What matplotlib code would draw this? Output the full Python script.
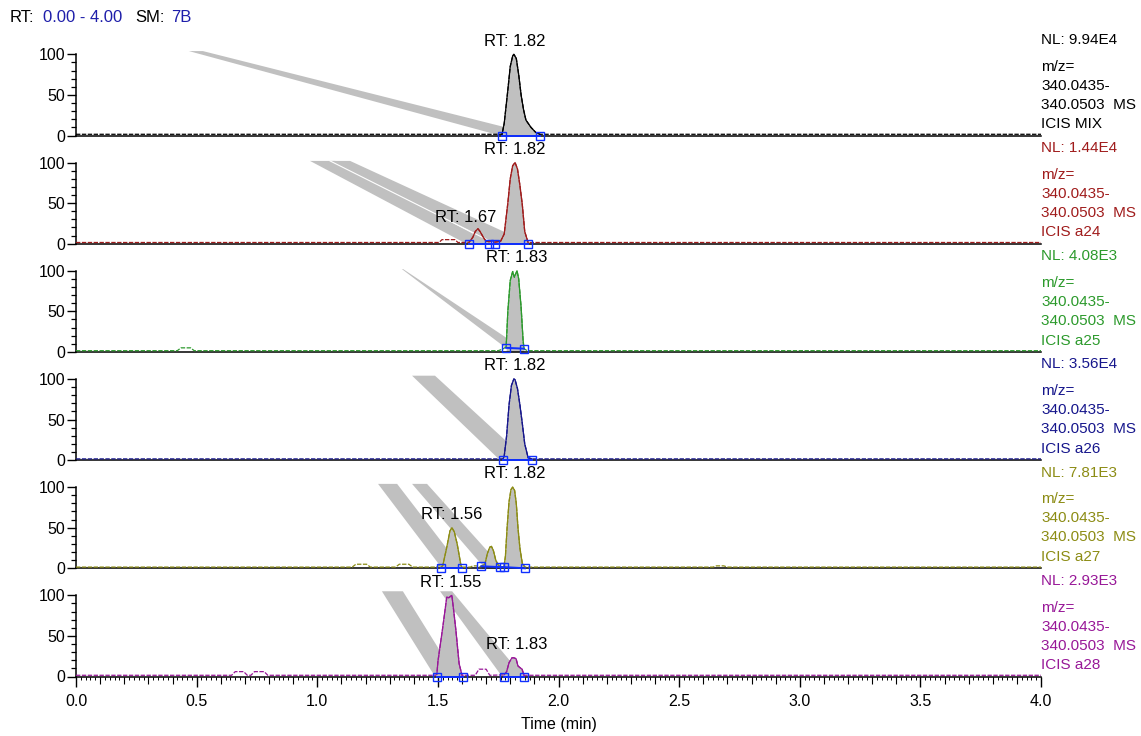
import numpy as np
import matplotlib
matplotlib.use('Agg')
import matplotlib.pyplot as plt
from matplotlib.ticker import MultipleLocator, FixedLocator

plt.rcParams['font.family'] = ['Liberation Sans', 'DejaVu Sans']
plt.rcParams['font.size'] = 11

# ---- chromatogram traces (time in min, relative abundance) ----
t1 = [0.0, 1.766, 1.775, 1.79, 1.80, 1.81, 1.815, 1.825, 1.835, 1.845, 1.855, 1.865, 1.886, 1.905, 1.923, 4.0]
i1 = [1.5, 1.5, 15, 56, 85, 98, 100, 95, 75, 50, 32, 19, 10, 4, 1.5, 1.5]

t2 = [0.0, 1.505, 1.517, 1.571, 1.583, 1.62, 1.63, 1.645, 1.655, 1.666, 1.675, 1.69, 1.70, 1.712,
      1.725, 1.737, 1.76, 1.775, 1.79, 1.80, 1.81, 1.82, 1.83, 1.84, 1.85, 1.86, 1.874, 4.0]
i2 = [1.5, 1.5, 5, 5, 1.5, 1.5, 2, 8, 15, 18.5, 15, 7, 3, 2.5,
      2.5, 2, 3, 12, 50, 80, 96, 100, 92, 72, 48, 15, 1.5, 1.5]

t3 = [0.0, 0.42, 0.435, 0.475, 0.49, 1.75, 1.765, 1.783, 1.79, 1.80, 1.81, 1.817, 1.828, 1.835,
      1.845, 1.853, 1.857, 1.87, 4.0]
i3 = [1.5, 1.5, 5, 5, 1.5, 1.5, 3, 6, 50, 88, 99, 92, 100, 90,
      55, 15, 4, 1.5, 1.5]

t4 = [0.0, 1.77, 1.775, 1.785, 1.795, 1.805, 1.815, 1.82, 1.83, 1.84, 1.85, 1.86, 1.874, 1.89, 4.0]
i4 = [1.5, 1.5, 5, 30, 68, 92, 100, 99, 88, 68, 45, 20, 3, 1.5, 1.5]

t5 = [0.0, 1.145, 1.16, 1.205, 1.22, 1.325, 1.34, 1.38, 1.395, 1.495, 1.50, 1.508, 1.513, 1.52,
      1.537, 1.55, 1.558, 1.568, 1.58, 1.596, 1.60, 1.635, 1.645, 1.66, 1.67, 1.68, 1.695, 1.705,
      1.715, 1.722, 1.73, 1.74, 1.75, 1.758, 1.774, 1.78, 1.787, 1.795, 1.803, 1.81, 1.818, 1.825,
      1.832, 1.84, 1.85, 1.861, 2.64, 2.655, 2.685, 2.70, 4.0]
i5 = [1.5, 1.5, 5, 5, 1.5, 1.5, 5, 5, 1.5, 1.5, 3, 3, 2, 3,
      26, 46, 50, 45, 30, 3, 1.5, 1.5, 3, 3, 1.5, 2.5, 5, 18,
      26, 27, 22, 10, 4, 2, 2, 15, 50, 82, 97, 100, 96, 80,
      50, 25, 6, 1.5, 1.5, 3, 3, 1.5, 1.5]

t6 = [0.0, 0.645, 0.66, 0.695, 0.71, 0.725, 0.74, 0.78, 0.795, 1.49, 1.496, 1.50, 1.52, 1.537,
      1.545, 1.558, 1.566, 1.575, 1.588, 1.60, 1.604, 1.655, 1.67, 1.70, 1.715, 1.774, 1.785,
      1.795, 1.807, 1.815, 1.824, 1.832, 1.84, 1.849, 1.857, 4.0]
i6 = [1.5, 1.5, 6, 6, 1.5, 1.5, 6, 6, 1.5, 1.5, 3, 18, 60, 98,
      97, 100, 80, 56, 16, 1.5, 1.5, 1.5, 9, 9, 1.5, 2, 6,
      17, 23, 23, 22, 13, 11, 9, 1.5, 1.5]

# integration boundaries (blue squares) and the groups joined by a line
sq_t = [[1.766, 1.923], [1.63, 1.712, 1.737, 1.874], [1.783, 1.857], [1.77, 1.89],
        [1.513, 1.60, 1.68, 1.758, 1.774, 1.861], [1.496, 1.604, 1.774, 1.857]]
sq_i = [[0, 0], [0, 0, 0, 0], [5, 4], [0, 0],
        [0, 0, 2.5, 1.5, 1.5, 0], [0, 0, 0, 0]]
sq_groups = [[[0, 1]], [[0, 1, 2, 3]], [[0, 1]], [[0, 1]],
             [[0, 1], [2, 3, 4, 5]], [[0, 1], [2, 3]]]
peak_ranges = [[(1.766, 1.923)], [(1.63, 1.712), (1.737, 1.874)], [(1.783, 1.857)], [(1.77, 1.89)],
               [(1.513, 1.60), (1.68, 1.758), (1.774, 1.861)], [(1.496, 1.604), (1.774, 1.857)]]

# peak labels
lab_text = [['RT: 1.82'], ['RT: 1.82', 'RT: 1.67'], ['RT: 1.83'], ['RT: 1.82'],
            ['RT: 1.82', 'RT: 1.56'], ['RT: 1.55', 'RT: 1.83']]
lab_x = [[1.82], [1.817, 1.617], [1.825], [1.82], [1.82, 1.558], [1.554, 1.826]]
lab_y = [[100], [100, 16], [100], [100], [100, 50], [100, 23]]

# grey label leader bands: top-left, top-right, bottom-right, bottom-left (time), top value, bottom value
bands = [[(0.468, 0.526, 1.915, 1.757, 104, 0)],
         [(0.970, 1.074, 1.724, 1.617, 102, 0), (1.053, 1.136, 1.882, 1.737, 102, 0)],
         [(1.351, 1.356, 1.857, 1.79, 102, 3)],
         [(1.393, 1.488, 1.869, 1.757, 104, 0)],
         [(1.252, 1.331, 1.60, 1.517, 104, 0), (1.393, 1.455, 1.77, 1.695, 104, 0)],
         [(1.268, 1.355, 1.575, 1.488, 105, 0), (1.509, 1.559, 1.853, 1.766, 105, 0)]]

nl = ['9.94E4', '1.44E4', '4.08E3', '3.56E4', '7.81E3', '2.93E3']
names = ['ICIS MIX', 'ICIS a24', 'ICIS a25', 'ICIS a26', 'ICIS a27', 'ICIS a28']
colors = ['#000000', '#a01c1c', '#2c9a2c', '#16168c', '#8c8c14', '#981898']

traces = [(t1, i1), (t2, i2), (t3, i3), (t4, i4), (t5, i5), (t6, i6)]

W, H = 1141, 736
fig = plt.figure(figsize=(W / 100, H / 100), dpi=100)

left, right = 76, 1041
step = 108.2
gray = '#c0c0c0'

axes = []
for k in range(6):
    base_px = 135.5 + step * k
    ax = fig.add_axes([left / W, 1 - base_px / H, (right - left) / W, step / H])
    ax.patch.set_visible(False)
    axes.append(ax)
    t = np.array(traces[k][0])
    v = np.array(traces[k][1])
    c = colors[k]

    for j, (tl, tr, br, bl, top, bot) in enumerate(bands[k]):
        ax.fill([tl, tr, br, bl], [top, top, bot, bot], color=gray, lw=0, zorder=1)
        if k == 1 and j == 1:
            # thin white seam where the two bands overlap
            ax.plot([tl, bl], [top, bot], color='white', lw=0.8, zorder=1.5)

    inpk = np.zeros(len(t), dtype=bool)
    for a, b in peak_ranges[k]:
        m = (t >= a) & (t <= b)
        inpk |= m
        ax.fill_between(t, v, 0, where=m, color=gray, lw=0, zorder=1)

    ax.plot(t, v, color=c, lw=0.9, ls=(0, (3.5, 1.2)), zorder=3)
    ax.plot(t, np.where(inpk, v, np.nan), color=c, lw=0.9, zorder=3)

    st = np.array(sq_t[k])
    si = np.array(sq_i[k])
    for g in sq_groups[k]:
        ax.plot(st[g], si[g], color='#1030ff', lw=1.4, zorder=4, clip_on=False)
    ax.plot(st, si, ls='none', marker='s', ms=5.5, mfc='none', mec='#1030ff', mew=1.0,
            zorder=5, clip_on=False)

    for txt, lx, ly in zip(lab_text[k], lab_x[k], lab_y[k]):
        ax.annotate(txt, (lx, ly), xytext=(0, 9.5), textcoords='offset points',
                    ha='center', va='center', fontsize=12, zorder=6)

    info = ['NL: ' + nl[k], 'm/z=', '340.0435-', '340.0503  MS', names[k]]
    for txt, yy in zip(info, [118, 85, 61.5, 38, 14]):
        ax.text(1.0, yy, txt, transform=ax.get_yaxis_transform(), color=c,
                ha='left', va='center', fontsize=11)

    ax.set_xlim(0, 4.0)
    ax.set_ylim(0, 133.3)
    for s in ['top', 'right']:
        ax.spines[s].set_visible(False)
    ax.spines['left'].set_bounds(0, 100)
    ax.spines['left'].set_linewidth(1.1)
    ax.spines['bottom'].set_linewidth(1.1)
    ax.set_yticks([0, 50, 100])
    ax.yaxis.set_minor_locator(FixedLocator([10, 20, 30, 40, 60, 70, 80, 90]))
    ax.tick_params(axis='y', which='major', direction='out', length=6.5, width=1.0,
                   labelsize=11.5, pad=1)
    ax.tick_params(axis='y', which='minor', direction='out', length=3.5, width=0.9)
    if k < 5:
        ax.tick_params(axis='x', which='both', bottom=False, labelbottom=False)

ax = axes[-1]
ax.xaxis.set_major_locator(MultipleLocator(0.5))
ax.xaxis.set_minor_locator(MultipleLocator(0.1))
ax.xaxis.set_major_formatter(plt.FormatStrFormatter('%.1f'))
ax.tick_params(axis='x', which='major', direction='out', length=7.5, width=1.0, labelsize=11.5, pad=5)
ax.tick_params(axis='x', which='minor', direction='out', length=5, width=0.8)
sec = ax.secondary_xaxis('bottom')
sec.set_xticks(np.arange(0, 4.0001, 0.02))
sec.tick_params(axis='x', length=2.3, width=0.7, labelbottom=False)
sec.spines['bottom'].set_visible(False)
ax.set_xlabel('Time (min)', fontsize=11.5, labelpad=6)

# header
hy = 1 - 18 / H
fig.text(10 / W, hy, 'RT:', va='center', fontsize=12)
fig.text(43 / W, hy, '0.00 - 4.00', va='center', fontsize=12, color='#1e1eaa')
fig.text(135 / W, hy, 'SM:', va='center', fontsize=12)
fig.text(171 / W, hy, '7B', va='center', fontsize=12, color='#1e1eaa')

fig.savefig('out.png', dpi=100)
